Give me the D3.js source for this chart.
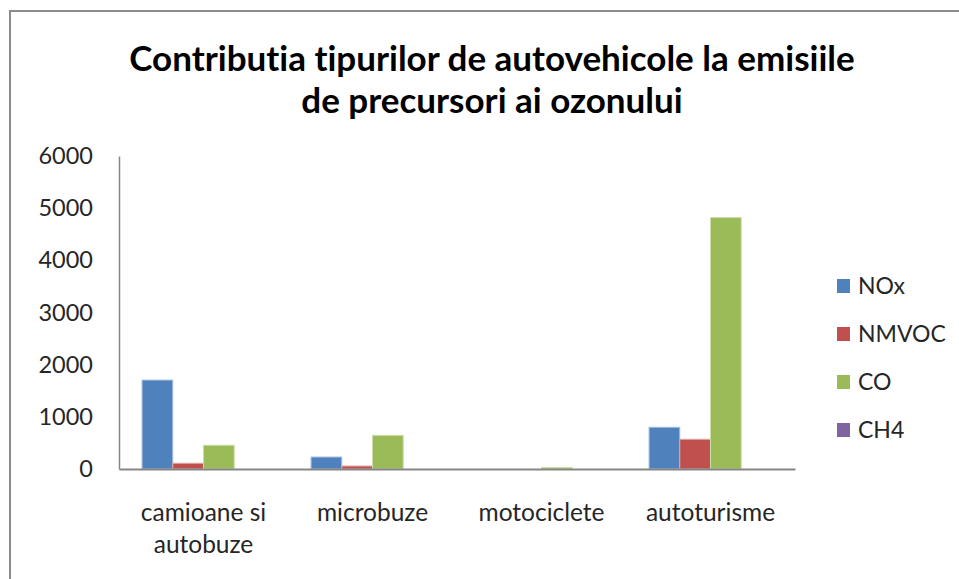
<!DOCTYPE html>
<html>
<head>
<meta charset="utf-8">
<script src="https://cdn.jsdelivr.net/npm/d3@7"></script>
<style>
  body { margin: 0; background: #fff; overflow: hidden; }
  svg { display: block; }
  svg text { font-family: Lato, "Open Sans", sans-serif; font-variant-ligatures: none; }
</style>
</head>
<body>
<svg id="svg1" width="959" height="579"></svg>
<script>
// chart data
const categories = ['camioane si autobuze', 'microbuze', 'motociclete', 'autoturisme'];
const seriesNames = ['NOx', 'NMVOC', 'CO', 'CH4'];
const noxValues = [1705, 230, 0, 800];
const nmvocValues = [110, 57, 0, 570];
const coValues = [455, 645, 30, 4820];
const ch4Values = [0, 0, 0, 0];
const yTicks = [0, 1000, 2000, 3000, 4000, 5000, 6000];
const colors = ['#4F81BD', '#C0504D', '#9BBB59', '#8064A2'];
const strokeColors = ['#a9c0de', '#e0a7a6', '#cddeab', '#bfb1d1'];

const svg1 = d3.select('#svg1');
const width1 = +svg1.attr('width');
const height1 = +svg1.attr('height');

const seriesValues = [noxValues, nmvocValues, coValues, ch4Values];
const table = categories.map((c, i) => ({
  cat: c,
  vals: seriesNames.map((s, j) => ({ key: s, value: seriesValues[j][i], idx: j }))
}));

// outer frame of the chart, only left and top edges are in view
svg1.append('path')
  .attr('d', `M10,${height1} V11 H${width1}`)
  .attr('fill', 'none')
  .attr('stroke', '#8c8c8c')
  .attr('stroke-width', 2);

const margin = { top: 156, left: 119, right: 164, bottom: 110 };
const innerWidth = width1 - margin.left - margin.right;   // 676
const innerHeight = height1 - margin.top - margin.bottom; // 313

const a = svg1.append('g')
  .attr('transform', `translate(${margin.left}, ${margin.top})`);

const xScale = d3.scaleBand()
  .domain(categories)
  .range([0, innerWidth])
  .padding(0);

const step = xScale.bandwidth();
const barW = step / 5.5; // excel gap width 150%
const xInner = d3.scaleBand()
  .domain(seriesNames)
  .range([barW * 0.75, step - barW * 0.75]);

const yScale = d3.scaleLinear()
  .domain([0, 6000])
  .range([innerHeight, 0]);

// y axis
const yAxis = d3.axisLeft(yScale)
  .tickValues(yTicks)
  .tickFormat(d3.format('d'))
  .tickSize(0)
  .tickPadding(26);

const yAxisG = a.append('g').call(yAxis);
yAxisG.select('.domain').attr('stroke', '#868686').attr('stroke-width', 1.5);
yAxisG.selectAll('text')
  .attr('fill', '#262626')
  .style('font-size', '23.5px')
  .style('font-family', 'Lato');

// bars
const groups = a.selectAll('.grp').data(table)
  .enter().append('g')
    .attr('class', 'grp')
    .attr('transform', d => `translate(${xScale(d.cat)}, 0)`);

groups.selectAll('rect').data(d => d.vals)
  .enter().append('rect')
    .attr('x', d => xInner(d.key))
    .attr('y', d => yScale(d.value))
    .attr('width', xInner.bandwidth())
    .attr('height', d => innerHeight - yScale(d.value))
    .attr('fill', d => colors[d.idx])
    .attr('stroke', d => d.value > 0 ? strokeColors[d.idx] : 'none')
    .attr('stroke-width', 1);

// x axis
const xAxis = d3.axisBottom(xScale).tickSize(0).tickFormat('');
const xAxisG = a.append('g')
  .attr('transform', `translate(0, ${innerHeight})`)
  .call(xAxis);
xAxisG.select('.domain').attr('stroke', '#868686').attr('stroke-width', 2);

// category labels, first one wraps on two lines
const labelLines = {
  'camioane si autobuze': ['camioane si', 'autobuze']
};
xAxisG.selectAll('.tick').each(function(d) {
  const lines = labelLines[d] || [d];
  const t = d3.select(this).append('text')
    .attr('text-anchor', 'middle')
    .attr('fill', '#262626')
    .style('font-size', '24.5px');
  lines.forEach((l, i) => {
    t.append('tspan')
      .attr('x', 0)
      .attr('y', 52 + i * 32)
      .text(l);
  });
});

// title
const title = svg1.append('text')
  .attr('text-anchor', 'middle')
  .attr('fill', '#000')
  .style('font-size', '35px')
  .style('font-weight', 'bold');
title.append('tspan').attr('x', 492).attr('y', 71).text('Contributia tipurilor de autovehicole la emisiile');
title.append('tspan').attr('x', 492).attr('y', 113).text('de precursori ai ozonului');

// legend
const legend = svg1.append('g')
  .attr('transform', 'translate(837, 286)');
const li = legend.selectAll('g').data(seriesNames)
  .enter().append('g')
    .attr('transform', (d, i) => `translate(0, ${i * 48})`);
li.append('rect')
  .attr('x', 0).attr('y', -7)
  .attr('width', 13).attr('height', 14)
  .attr('fill', (d, i) => colors[i]);
li.append('text')
  .attr('x', 21)
  .attr('dy', '0.35em')
  .attr('fill', '#262626')
  .style('font-size', '23px')
  .text(d => d);
</script>
</body>
</html>
